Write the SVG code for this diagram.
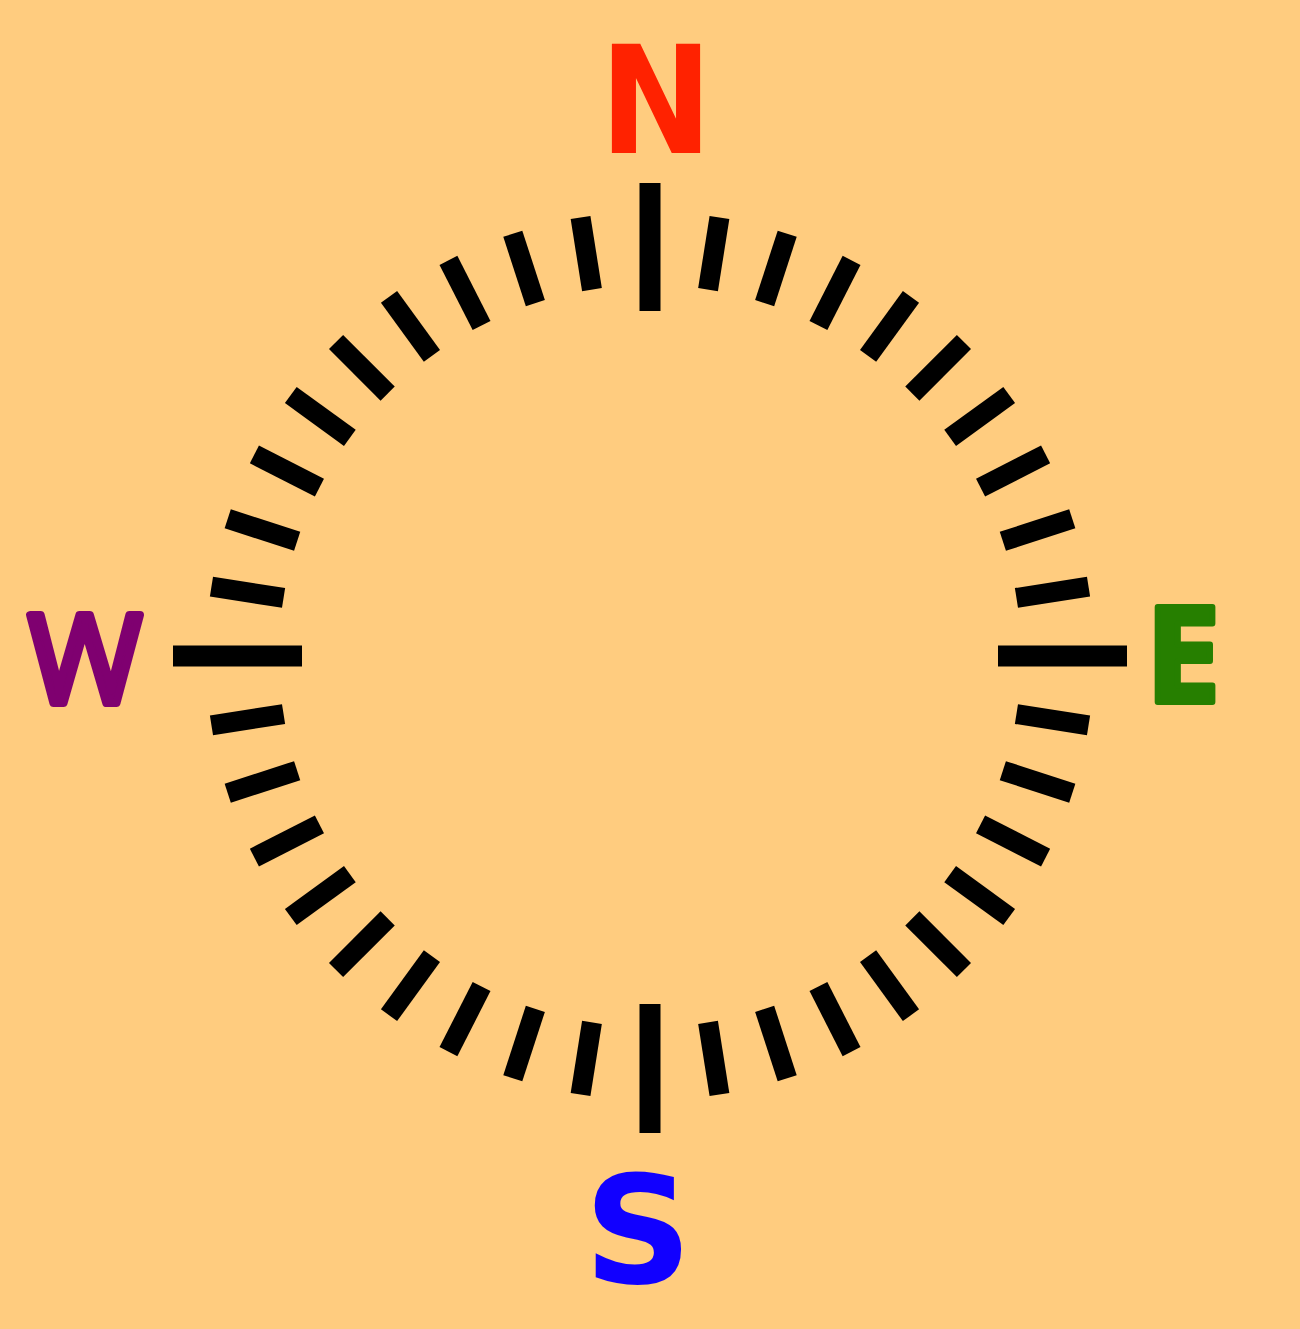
<svg xmlns="http://www.w3.org/2000/svg" width="1300" height="1329" viewBox="0 0 1300 1329">
<style>
.major{stroke:#000;stroke-width:21;fill:none}
.minor{stroke:#000;stroke-width:20;fill:none}
.dj{font-family:"DejaVu Sans",sans-serif;font-weight:bold;font-size:150px;text-anchor:middle}
.os{font-family:"Open Sans",sans-serif;text-anchor:middle;stroke-linejoin:round}
</style>
<rect width="1300" height="1329" fill="#ffcc7f"/>
<g id="ticks">
<line class="major" x1="650" y1="183" x2="650" y2="311"/>
<line class="major" x1="650" y1="1004" x2="650" y2="1133"/>
<line class="major" x1="173" y1="656" x2="302" y2="656"/>
<line class="major" x1="998" y1="656" x2="1127" y2="656"/>
<g class="minor">
<line x1="650" y1="212" x2="650" y2="285" transform="rotate(9 650 656)"/>
<line x1="650" y1="212" x2="650" y2="285" transform="rotate(18 650 656)"/>
<line x1="650" y1="212" x2="650" y2="285" transform="rotate(27 650 656)"/>
<line x1="650" y1="212" x2="650" y2="285" transform="rotate(36 650 656)"/>
<line x1="650" y1="212" x2="650" y2="285" transform="rotate(45 650 656)"/>
<line x1="650" y1="212" x2="650" y2="285" transform="rotate(54 650 656)"/>
<line x1="650" y1="212" x2="650" y2="285" transform="rotate(63 650 656)"/>
<line x1="650" y1="212" x2="650" y2="285" transform="rotate(72 650 656)"/>
<line x1="650" y1="212" x2="650" y2="285" transform="rotate(81 650 656)"/>
<line x1="650" y1="212" x2="650" y2="285" transform="rotate(99 650 656)"/>
<line x1="650" y1="212" x2="650" y2="285" transform="rotate(108 650 656)"/>
<line x1="650" y1="212" x2="650" y2="285" transform="rotate(117 650 656)"/>
<line x1="650" y1="212" x2="650" y2="285" transform="rotate(126 650 656)"/>
<line x1="650" y1="212" x2="650" y2="285" transform="rotate(135 650 656)"/>
<line x1="650" y1="212" x2="650" y2="285" transform="rotate(144 650 656)"/>
<line x1="650" y1="212" x2="650" y2="285" transform="rotate(153 650 656)"/>
<line x1="650" y1="212" x2="650" y2="285" transform="rotate(162 650 656)"/>
<line x1="650" y1="212" x2="650" y2="285" transform="rotate(171 650 656)"/>
<line x1="650" y1="212" x2="650" y2="285" transform="rotate(189 650 656)"/>
<line x1="650" y1="212" x2="650" y2="285" transform="rotate(198 650 656)"/>
<line x1="650" y1="212" x2="650" y2="285" transform="rotate(207 650 656)"/>
<line x1="650" y1="212" x2="650" y2="285" transform="rotate(216 650 656)"/>
<line x1="650" y1="212" x2="650" y2="285" transform="rotate(225 650 656)"/>
<line x1="650" y1="212" x2="650" y2="285" transform="rotate(234 650 656)"/>
<line x1="650" y1="212" x2="650" y2="285" transform="rotate(243 650 656)"/>
<line x1="650" y1="212" x2="650" y2="285" transform="rotate(252 650 656)"/>
<line x1="650" y1="212" x2="650" y2="285" transform="rotate(261 650 656)"/>
<line x1="650" y1="212" x2="650" y2="285" transform="rotate(279 650 656)"/>
<line x1="650" y1="212" x2="650" y2="285" transform="rotate(288 650 656)"/>
<line x1="650" y1="212" x2="650" y2="285" transform="rotate(297 650 656)"/>
<line x1="650" y1="212" x2="650" y2="285" transform="rotate(306 650 656)"/>
<line x1="650" y1="212" x2="650" y2="285" transform="rotate(315 650 656)"/>
<line x1="650" y1="212" x2="650" y2="285" transform="rotate(324 650 656)"/>
<line x1="650" y1="212" x2="650" y2="285" transform="rotate(333 650 656)"/>
<line x1="650" y1="212" x2="650" y2="285" transform="rotate(342 650 656)"/>
<line x1="650" y1="212" x2="650" y2="285" transform="rotate(351 650 656)"/>
</g>
</g>
<g id="labels">
<text class="dj" x="656" y="153" fill="#ff2200" transform="translate(656 0) scale(0.9 1) translate(-656 0)">N</text>
<text class="dj" x="638" y="1283" fill="#1100ff">S</text>
<text class="os" x="85" y="703" style="font-size:123px;font-weight:normal;stroke-width:8px" fill="#7f0070" stroke="#7f0070">W</text>
<text class="os" x="1183" y="702" style="font-size:133px;font-weight:bold;stroke-width:6px" fill="#267f00" stroke="#267f00">E</text>
</g>
</svg>
